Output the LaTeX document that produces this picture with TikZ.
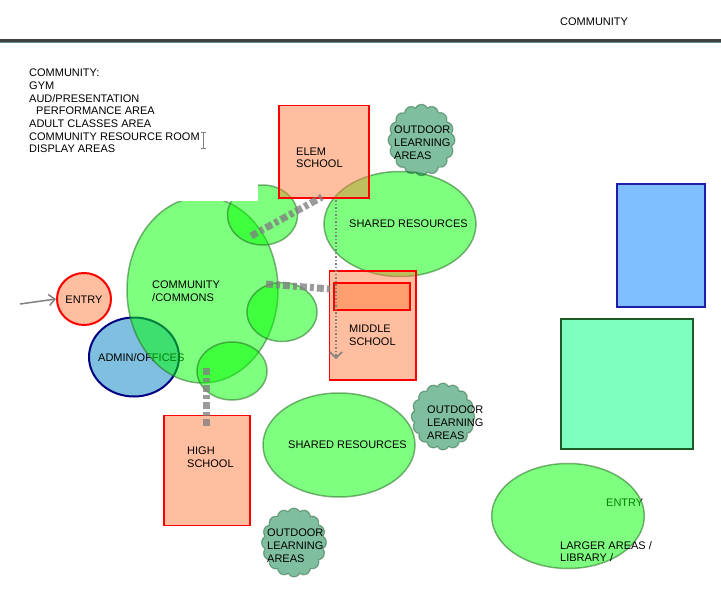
\documentclass[tikz,border=0pt]{standalone}
\usepackage{fontspec}
\setmainfont{Liberation Sans}
\usetikzlibrary{arrows.meta,shapes.geometric}
\definecolor{gstroke}{RGB}{40,110,40}
\definecolor{schoolc}{RGB}{255,127,64}
\definecolor{adminc}{RGB}{0,128,192}
\definecolor{adminstroke}{RGB}{0,0,128}
\definecolor{cloudc}{RGB}{0,128,64}
\definecolor{cloudstroke}{RGB}{40,100,60}
\definecolor{bluec}{RGB}{0,128,255}
\definecolor{bluestroke}{RGB}{30,30,170}
\definecolor{mintc}{RGB}{0,255,128}
\definecolor{mintstroke}{RGB}{30,90,40}
\definecolor{barc}{RGB}{64,64,64}
\definecolor{barline}{RGB}{96,144,160}
\definecolor{dashc}{RGB}{128,128,128}
\begin{document}
\begin{tikzpicture}[x=1pt,y=-1pt,
  txt/.style={font=\fontsize{11}{13}\selectfont, inner sep=0pt, anchor=base west},
  greenshape/.style={ellipse, inner sep=0pt, fill=green, fill opacity=0.5, draw=gstroke, draw opacity=0.55, line width=1.5pt},
  school/.style={rectangle, inner sep=0pt, fill=schoolc, fill opacity=0.5, draw=red, line width=1.5pt},
  cloudsty/.style={fill=cloudc, fill opacity=0.5, draw=cloudstroke, draw opacity=0.5, line width=1.2pt},
  link/.style={draw=dashc, draw opacity=0.78, line width=7pt, dash pattern=on 7pt off 3pt on 4pt off 3pt},
  cloudpic/.pic={\path[cloudsty] (-11.25:30.5) \foreach \i in {0,...,15}{ arc[start angle={\i*22.5-60}, delta angle=120, radius=6.871] } -- cycle;}
]
\useasboundingbox (0,0) rectangle (721,589);
\fill[white] (0,0) rectangle (721,589);

% header
\node[txt] (title) at (560,25.5) {COMMUNITY};
\fill[barc] (0,38.8) rectangle (721,41.6);
\draw[barline, line width=0.8pt] (0,42) -- (721,42);

% list
\node[txt] (l1) at (29,76) {COMMUNITY:};
\node[txt] (l2) at (29,89) {GYM};
\node[txt] (l3) at (29,102) {AUD/PRESENTATION};
\node[txt] (l4) at (36,114) {PERFORMANCE AREA};
\node[txt] (l5) at (29,127) {ADULT CLASSES AREA};
\node[txt] (l6) at (29,140) {COMMUNITY RESOURCE ROOM};
\node[txt] (l7) at (29,152) {DISPLAY AREAS};
\draw[gray, line width=0.8pt] (203,132) -- (203,148) (200.5,132) -- (205.5,132) (200.5,148) -- (205.5,148);

% entry
\node[ellipse, inner sep=0pt, minimum width=54pt, minimum height=52pt, fill=schoolc, fill opacity=0.5, draw=red, line width=2pt] (entry) at (84,299) {};
\node[txt, anchor=base] (entryt) at (84,303) {ENTRY};
\coordinate (arrs) at (20,304);
\draw[dashc, line width=1.5pt, -{Straight Barb[length=6pt,width=11pt]}] (arrs) -- (entry.west);

% admin
\node[ellipse, inner sep=0pt, minimum width=90pt, minimum height=79pt, fill=adminc, fill opacity=0.5, draw=adminstroke, line width=2pt] (admin) at (134,357) {};
\node[txt] (admint) at (98,361) {ADMIN/OFFICES};

% community
\node[greenshape, minimum width=151pt, minimum height=186pt] (community) at (202.5,290) {};
\node[greenshape, minimum width=70pt, minimum height=60pt] (ctop) at (262.5,215) {};
\node[greenshape, minimum width=70pt, minimum height=59pt] (cmid) at (282,312) {};
\node[greenshape, minimum width=70pt, minimum height=58pt] (cbot) at (232,371) {};
\fill[white] (110,182) rectangle (257.7,200.7);
\node[txt] (commt1) at (152,288) {COMMUNITY};
\node[txt] (commt2) at (152,301) {/COMMONS};

% shared resources top + elem
\node[greenshape, minimum width=152pt, minimum height=105pt] (shared1) at (400,224) {};
\node[school, minimum width=90pt, minimum height=92.5pt] (elem) at (324,151.5) {};
\node[txt] (elemt1) at (296,155) {ELEM};
\node[txt] (elemt2) at (296,167) {SCHOOL};
\node[txt] (shared1t) at (349,227) {SHARED RESOURCES};

% clouds
\pic[xscale=1.0, yscale=1.07] (cloud1) at (421.5,140) {cloudpic};
\node[txt] (c1a) at (394,133) {OUTDOOR};
\node[txt] (c1b) at (394,146) {LEARNING};
\node[txt] (c1c) at (394,159) {AREAS};

% middle school
\node[school, minimum width=86.5pt, minimum height=109pt] (middle) at (372.5,325.5) {};
\node[school, minimum width=76pt, minimum height=27.3pt] (midinner) at (372,296.4) {};
\node[txt] (midt1) at (349,332) {MIDDLE};
\node[txt] (midt2) at (349,345) {SCHOOL};

\pic[xscale=0.95, yscale=1.0] (cloud2) at (443,416.5) {cloudpic};
\node[txt] (c2a) at (427,413) {OUTDOOR};
\node[txt] (c2b) at (427,426) {LEARNING};
\node[txt] (c2c) at (427,439) {AREAS};

% shared bottom
\node[greenshape, minimum width=152pt, minimum height=104pt] (shared2) at (339,445) {};
\node[txt] (shared2t) at (288,448) {SHARED RESOURCES};

% high school
\node[school, minimum width=86pt, minimum height=110pt] (high) at (207,470.7) {};
\node[txt] (hight1) at (187,454) {HIGH};
\node[txt] (hight2) at (187,467) {SCHOOL};

\pic[xscale=0.97, yscale=1.03] (cloud3) at (294,542.5) {cloudpic};
\node[txt] (c3a) at (267,536) {OUTDOOR};
\node[txt] (c3b) at (267,549) {LEARNING};
\node[txt] (c3c) at (267,562) {AREAS};

% connectors
\coordinate (d1s) at (251,236);
\coordinate (d1e) at (322,197);
\draw[link] (d1s) -- (d1e);
\coordinate (d2s) at (266,284);
\coordinate (d2e) at (330,289);
\draw[link] (d2s) -- (d2e);
\coordinate (d3s) at (206,368);
\coordinate (d3e) at (206,427);
\draw[link] (d3s) -- (d3e);
\coordinate (dots) at (336,200);
\coordinate (dote) at (336,359);
\draw[dashc, line width=1.5pt, dotted, -{Straight Barb[length=6pt,width=12pt]}] (dots) -- (dote);

% right side
\node[rectangle, inner sep=0pt, minimum width=88pt, minimum height=122.5pt, fill=bluec, fill opacity=0.5, draw=bluestroke, line width=1.8pt] (bluebox) at (661,245.5) {};
\node[rectangle, inner sep=0pt, minimum width=132pt, minimum height=130pt, fill=mintc, fill opacity=0.5, draw=mintstroke, line width=1.8pt] (mintbox) at (627,384) {};

\node[txt] (entry2) at (606,506) {ENTRY};
\node[greenshape, minimum width=152.6pt, minimum height=105pt] (large) at (568,516) {};
\node[txt] (larget1) at (560,549) {LARGER AREAS /};
\node[txt] (larget2) at (560,561) {LIBRARY /};
\end{tikzpicture}
\end{document}
